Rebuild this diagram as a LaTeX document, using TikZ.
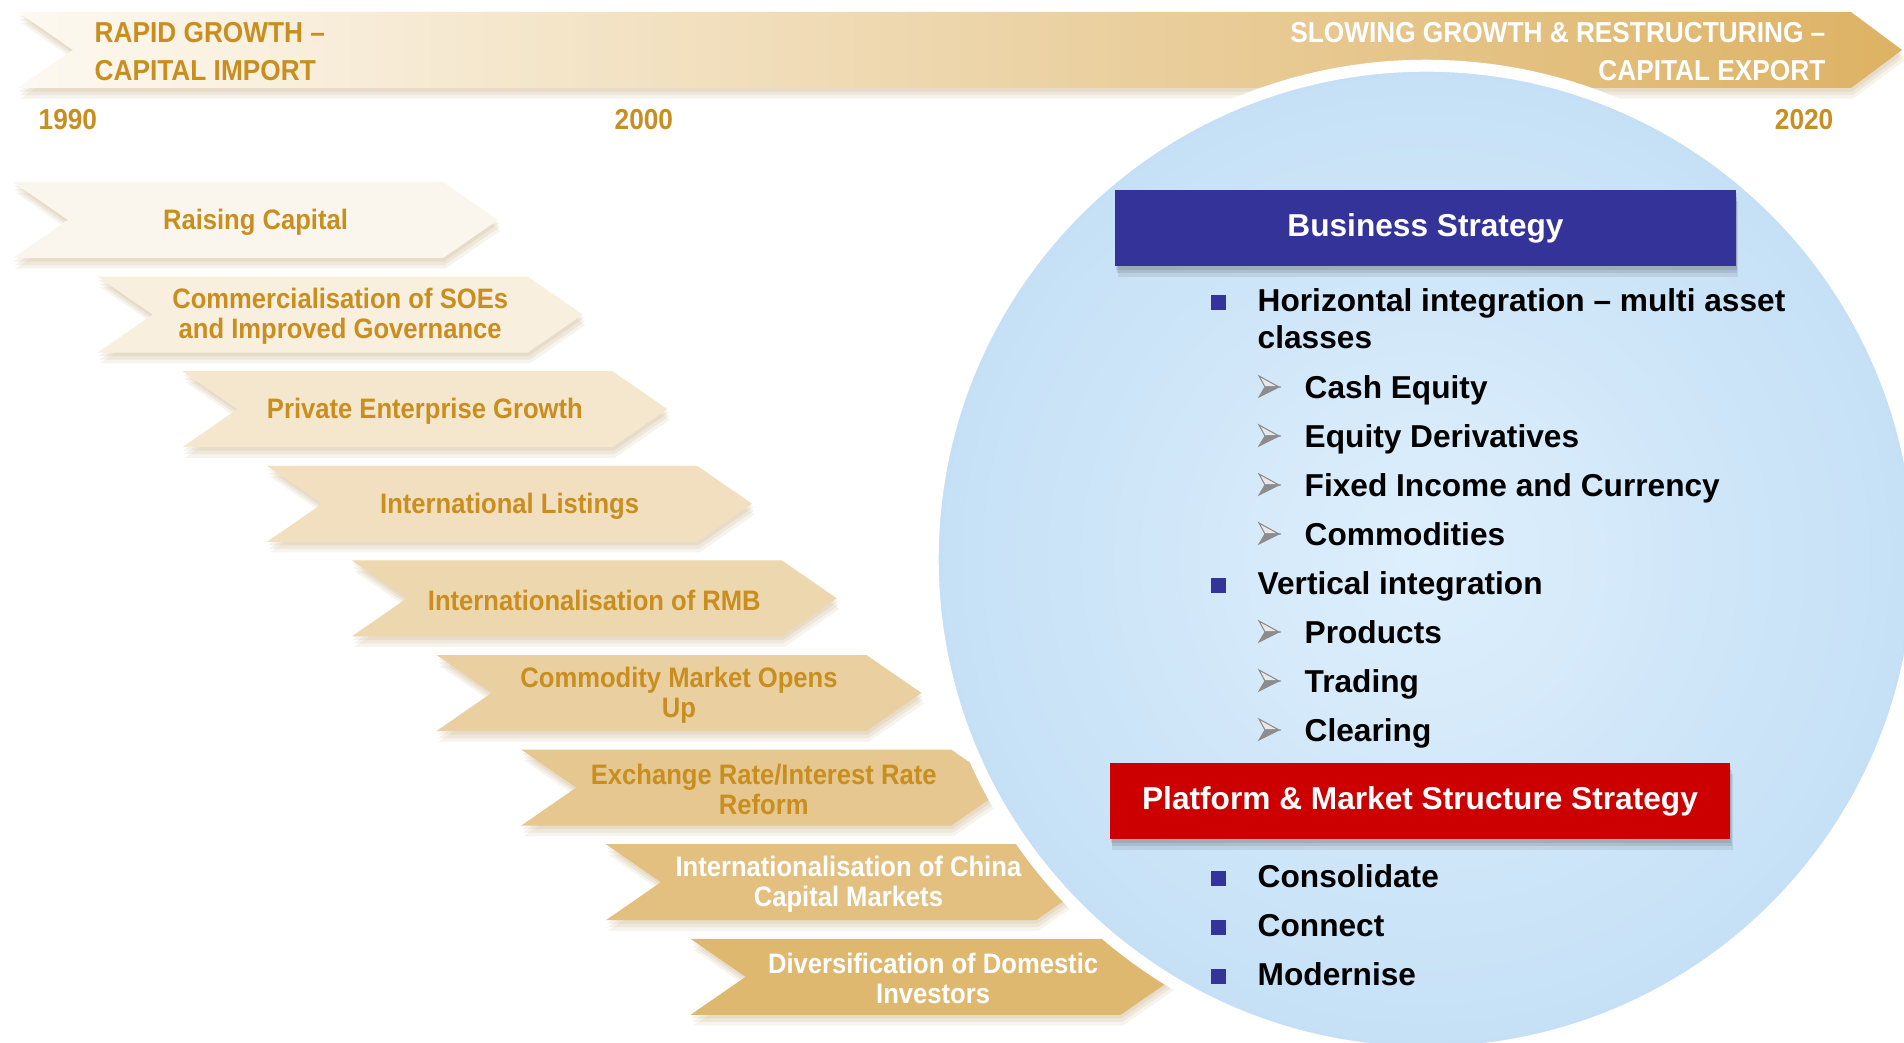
\documentclass[tikz,border=0pt]{standalone}
\usepackage{fontspec}
\setmainfont{Liberation Sans}
\newfontfamily\narrowfont{Liberation Sans}[FakeStretch=0.91]
\usetikzlibrary{shadows}
\definecolor{goldtext}{RGB}{200, 142, 32}
\definecolor{bannerlight}{RGB}{253, 249, 241}
\definecolor{bannergold}{RGB}{221, 178, 100}
\definecolor{chevgold}{RGB}{222, 181, 106}
\definecolor{circleblue}{RGB}{197, 224, 246}
\definecolor{circlelight}{RGB}{222, 239, 252}
\definecolor{stratblue}{RGB}{51, 51, 153}
\definecolor{stratred}{RGB}{204, 0, 0}
\definecolor{arrowgray}{RGB}{140, 140, 140}

\begin{document}
\begin{tikzpicture}[x=0.01cm, y=-0.01cm,
    goldlabel/.style={text=goldtext, inner sep=0pt, font=\narrowfont\bfseries\fontsize{8.2}{10}\selectfont},
    chevtext/.style={inner sep=0pt, align=center, font=\narrowfont\bfseries\fontsize{8}{8.5}\selectfont},
    softshadow/.style={
        drop shadow={shadow xshift=0.3pt, shadow yshift=-1.0pt, opacity=0.12, fill=#1},
        drop shadow={shadow xshift=0.5pt, shadow yshift=-2.0pt, opacity=0.12, fill=#1},
        drop shadow={shadow xshift=0.7pt, shadow yshift=-3.0pt, opacity=0.10, fill=#1}},
    stratbox/.style={minimum width=6.2cm, minimum height=0.76cm, inner sep=0pt, text=white,
        font=\bfseries\fontsize{9}{11}\selectfont, softshadow=black!80},
    item/.style={anchor=base west, inner sep=0pt, font=\bfseries\fontsize{9}{11}\selectfont},
    bsquare/.style={fill=stratblue, minimum size=0.15cm, inner sep=0pt}]
            % Frame
            \useasboundingbox                                                 (0,0) rectangle (1904,1043);
            \fill[white]                                                      (0,0) rectangle (1904,1043);
            % Timeline banner
            \shade[left color=bannerlight, middle color=bannergold!50!bannerlight, right color=bannergold, softshadow=chevgold!80!black]
                 (18,12) -- (1851,12) -- (1902,50) -- (1851,88) -- (18,88) -- (73,50) -- cycle;
            \node[goldlabel, anchor=base west]             (rapid)   at (94,43)    {RAPID GROWTH –};
            \node[goldlabel, anchor=base west]             (import)  at (94,81)    {CAPITAL IMPORT};
            \node[goldlabel, text=white, anchor=base east] (slowing) at (1826,43)  {SLOWING GROWTH \& RESTRUCTURING –};
            \node[goldlabel, text=white, anchor=base east] (export)  at (1826,81)  {CAPITAL EXPORT};
            % Years
            \node[goldlabel, anchor=base west]             (y1990)   at (38,130)   {1990};
            \node[goldlabel, anchor=base west]             (y2000)   at (614,130)  {2000};
            \node[goldlabel, anchor=base east]             (y2020)   at (1834,130) {2020};
            % Milestone chevrons
            \foreach \lbl/\tcol [count=\i from 0] in {
                {Raising Capital}/goldtext,
                {Commercialisation of SOEs\\and Improved Governance}/goldtext,
                {Private Enterprise Growth}/goldtext,
                {International Listings}/goldtext,
                {Internationalisation of RMB}/goldtext,
                {Commodity Market Opens\\Up}/goldtext,
                {Exchange Rate/Interest Rate\\Reform}/goldtext,
                {Internationalisation of China\\Capital Markets}/white,
                {Diversification of Domestic\\Investors}/white}
            {
                \pgfmathsetmacro\L{13+84.7*\i}
                \pgfmathsetmacro\C{220+94.6*\i}
                \pgfmathtruncatemacro\p{12+10.5*\i}
                \fill[chevgold!\p!white, softshadow=chevgold!80!black]
                     (\L,\C-38) -- (\L+430,\C-38) -- (\L+485,\C) -- (\L+430,\C+38) -- (\L,\C+38) -- (\L+55,\C) -- cycle;
                \node[chevtext, text=\tcol] (chev\i) at (\L+242.5,\C+2) {\lbl};
            }
            % Strategy circle
            \node[circle, minimum size=9.86cm, draw=white, line width=3.4pt,
                  inner color=circlelight, outer color=circleblue] (strategy) at (1426,559) {};
            % Headings
            \node[stratbox, fill=stratblue] (business) at (1425.5,228) {Business Strategy};
            \node[stratbox, fill=stratred]  (platform) at (1420,801)   {Platform \& Market Structure Strategy};
            % Bullets
            \foreach \b/\txt [count=\k] in {311/Horizontal integration – multi asset, 594/Vertical integration,
                                            887/Consolidate, 936/Connect, 985/Modernise}
            {
                \node[bsquare] (sq\k)   at (1218,\b-8.5) {};
                \node[item]    (main\k) at (1257,\b)     {\txt};
            }
            \node[item] (classes) at (1257,349) {classes};
            % Sub-bullets
            \foreach \b/\txt [count=\k] in {398/Cash Equity, 447/Equity Derivatives, 496/Fixed Income and Currency,
                                            545/Commodities, 643/Products, 692/Trading, 741/Clearing}
            {
                \filldraw[arrowgray!20!white, draw=arrowgray, line width=0.3pt] (1259,\b-22) -- (1279,\b-11) -- (1265,\b-11) -- cycle;
                \filldraw[fill=arrowgray, draw=arrowgray, line width=0.3pt]     (1265,\b-11) -- (1279,\b-11) -- (1259,\b-1) -- cycle;
                \node[item] (sub\k) at (1304,\b) {\txt};
            }
\end{tikzpicture}
\end{document}
